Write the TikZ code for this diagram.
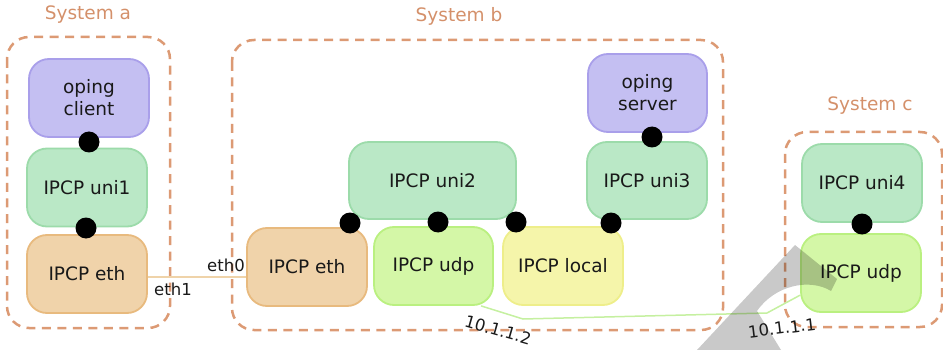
\documentclass[tikz,border=0pt]{standalone}
\usepackage{fontspec}
\setmainfont{DejaVu Sans}
\definecolor{purF}{HTML}{C4BFF2}
\definecolor{purD}{HTML}{A99FEA}
\definecolor{grnF}{HTML}{BAE8C6}
\definecolor{grnD}{HTML}{9CDBAA}
\definecolor{tanF}{HTML}{F0D3AA}
\definecolor{tanD}{HTML}{E8BA7E}
\definecolor{limF}{HTML}{D4F7A7}
\definecolor{limD}{HTML}{BAF080}
\definecolor{yelF}{HTML}{F5F5AA}
\definecolor{yelD}{HTML}{EEEE8A}
\definecolor{sysC}{HTML}{DC9A74}
\definecolor{sysT}{HTML}{D4906A}
\definecolor{linkT}{HTML}{EFD3A9}
\definecolor{linkG}{HTML}{C5F0A0}
\newcommand{\fbig}{\fontsize{18.5pt}{22pt}\selectfont}
\newcommand{\fsmall}{\fontsize{16.5pt}{20pt}\selectfont}
\begin{document}
\begin{tikzpicture}[x=1pt,y=-1pt,
  box/.style={rounded corners=20pt, minimum width=120pt, minimum height=78pt, line width=1.8pt, inner sep=0pt, align=center, font=\fbig, text=black!90},
  pur/.style={box, fill=purF, draw=purD},
  grn/.style={box, fill=grnF, draw=grnD},
  tanbox/.style={box, fill=tanF, draw=tanD},
  lim/.style={box, fill=limF, draw=limD},
  yel/.style={box, fill=yelF, draw=yelD},
  dot/.style={circle, fill=black, minimum size=21pt, inner sep=0pt},
  sys/.style={draw=sysC, dash pattern=on 9pt off 6.5pt, line width=2.5pt, rounded corners=22pt},
  syslabel/.style={text=sysT, font=\fbig, inner sep=0pt},
  small/.style={font=\fsmall, inner sep=0pt, text=black!90}]
\useasboundingbox (0,0) rectangle (943,350);
% systems
\draw[sys] (7,37) rectangle (170,328);
\draw[sys] (232,40) rectangle (723,330);
\draw[sys] (785,132) rectangle (942,327);
\node[syslabel] (la) at (88,15) {System a};
\node[syslabel] (lb) at (459,16) {System b};
\node[syslabel] (lc) at (870,106) {System c};
% boxes
\node[pur] (client) at (89,98) {oping\\client};
\node[grn] (uni1) at (87,187.5) {IPCP uni1};
\node[tanbox] (ethA) at (87,274) {IPCP eth};
\node[pur, minimum width=119pt] (server) at (647.5,93) {oping\\server};
\node[grn, minimum height=77pt] (uni3) at (647,180.5) {IPCP uni3};
\node[grn, minimum width=167pt, minimum height=77pt] (uni2) at (432.5,180.5) {IPCP uni2};
\node[tanbox] (ethB) at (307,267) {IPCP eth};
\node[lim, minimum width=119pt] (udpB) at (433.5,266) {IPCP udp};
\node[yel] (local) at (563,266) {IPCP local};
\node[grn] (uni4) at (862,183) {IPCP uni4};
\node[lim] (udpC) at (861,273) {IPCP udp};
% links
\draw[linkT, line width=2pt] (ethA.east |- 0,277) -- (ethB.west |- 0,277);
\coordinate (k1) at (523,319);
\coordinate (k2) at (767,313);
\draw[linkG, line width=1.5pt] (udpB.-40) -- (k1) -- (k2) -- (udpC.200);
% dots
\node[dot] (d1) at (89,142) {};
\node[dot] (d2) at (86,228) {};
\node[dot] (d3) at (350,223) {};
\node[dot] (d4) at (438,222) {};
\node[dot] (d5) at (516,222) {};
\node[dot] (d6) at (611,223) {};
\node[dot] (d7) at (652,137) {};
\node[dot] (d8) at (862,224) {};
% labels
\node[small] (e0) at (226,265) {eth0};
\node[small] (e1) at (173,289) {eth1};
\node[small, rotate=-16] (ip2) at (498,330) {10.1.1.2};
% watermark shape
\fill[black, opacity=0.21] (697,350) -- (795,245) -- (837,279) -- (831,291)
  .. controls (810,278) and (775,285) .. (757,311) -- (781,350) -- cycle;
\node[small, rotate=7] (ip1) at (782,328) {10.1.1.1};
\end{tikzpicture}
\end{document}
